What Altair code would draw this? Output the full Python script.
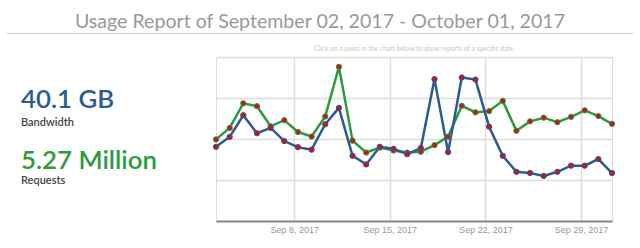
import altair as alt
import pandas as pd

dates = pd.date_range("2017-09-02 06:30", "2017-10-01 06:30", freq="D")
bandwidth = [1.81, 2.05, 2.58, 2.14, 2.27, 1.95, 1.80, 1.74, 2.36, 2.76,
             1.59, 1.38, 1.81, 1.76, 1.63, 1.78, 3.46, 1.68, 3.50, 3.45,
             2.30, 1.59, 1.20, 1.17, 1.10, 1.20, 1.35, 1.35, 1.51, 1.17]
requests = [1.99, 2.27, 2.87, 2.80, 2.31, 2.46, 2.17, 2.06, 2.55, 3.76,
            1.96, 1.67, 1.79, 1.72, 1.67, 1.69, 1.85, 2.06, 2.81, 2.65,
            2.68, 2.93, 2.20, 2.43, 2.52, 2.41, 2.54, 2.70, 2.56, 2.37]
tick_dates = ["2017-09-08", "2017-09-15", "2017-09-22", "2017-09-29"]
title_text = "Usage Report of September 02, 2017 - October 01, 2017"
subtitle_text = "Click on a point in the chart below to show reports of a specific date."
stats = [("40.1 GB", "Bandwidth", "#2a5b94"), ("5.27 Million", "Requests", "#2e9a3e")]

BLUE = "#2a5b94"
GREEN = "#2e9a3e"

df = pd.DataFrame({"date": list(dates) * 2,
                   "value": requests + bandwidth,
                   "series": ["Requests"] * 30 + ["Bandwidth"] * 30})

xscale = alt.Scale(domain=[dates[0].isoformat(), dates[-1].isoformat()], nice=False)
yscale = alt.Scale(domain=[0, 4], nice=False)

x = alt.X("date:T", scale=xscale,
          axis=alt.Axis(values=[pd.Timestamp(d).isoformat() for d in tick_dates],
                        format="%b %-d, %Y", title=None, grid=True, gridColor="#dddddd",
                        gridWidth=1.5, domainColor="#888888", domainWidth=2,
                        ticks=False, labelColor="#999999", labelFontSize=9,
                        labelFont="Arial", labelPadding=4))
y = alt.Y("value:Q", scale=yscale,
          axis=alt.Axis(values=[0, 1, 2, 3, 4], labels=False, ticks=False, domain=False,
                        title=None, grid=True, gridColor="#dddddd", gridWidth=1.5))

color = alt.Color("series:N", scale=alt.Scale(domain=["Bandwidth", "Requests"],
                                              range=[BLUE, GREEN]), legend=None)

lines = alt.Chart(df).mark_line(strokeWidth=2.5).encode(x=x, y=y, color=color,
                                                          order=alt.Order("date:T"))
points = alt.Chart(df).mark_point(filled=True, size=28, fill="#d0101a",
                                  strokeWidth=1, opacity=1).encode(
    x="date:T", y="value:Q", stroke=alt.Stroke("series:N", scale=alt.Scale(
        domain=["Bandwidth", "Requests"], range=[BLUE, GREEN]), legend=None))

title = alt.Chart(pd.DataFrame({"t": [title_text]})).mark_text(
    font="Lato", fontSize=19.6, color="#999999", align="center", baseline="alphabetic"
).encode(text="t:N", x=alt.value(104), y=alt.value(-29))

rule = alt.Chart(pd.DataFrame({"a": [0]})).mark_rule(color="#cccccc", strokeWidth=1).encode(
    x=alt.value(-209), x2=alt.value(417), y=alt.value(-23.5))

subtitle = alt.Chart(pd.DataFrame({"t": [subtitle_text]})).mark_text(
    font="Lato", fontSize=6.7, color="#c8c8c8", align="center", baseline="middle"
).encode(text="t:N", x=alt.value(198.5), y=alt.value(-8))

big = alt.Chart(pd.DataFrame({"t": [s[0] for s in stats], "c": [s[2] for s in stats],
                              "yy": [43, 104]})).mark_text(
    font="Lato", fontSize=25.8, fontWeight=600, align="left", baseline="middle"
).encode(text="t:N", x=alt.value(-195), y=alt.Y("yy:Q", scale=None),
         color=alt.Color("c:N", scale=None))

small = alt.Chart(pd.DataFrame({"t": [s[1] for s in stats], "yy": [66, 124]})).mark_text(
    font="Lato", fontSize=11, fontWeight=600, color="#444444", align="left", baseline="middle"
).encode(text="t:N", x=alt.value(-195), y=alt.Y("yy:Q", scale=None))

chart = alt.layer(lines, points, title, rule, subtitle, big, small).properties(
    width=396, height=164,
    padding={"left": 216, "top": 57, "right": 28, "bottom": 27},
    autosize=alt.AutoSizeParams(type="none"),
).configure_view(stroke=None).configure(background="white")

chart.save("out.html", embed_options={"renderer": "svg", "actions": False})
